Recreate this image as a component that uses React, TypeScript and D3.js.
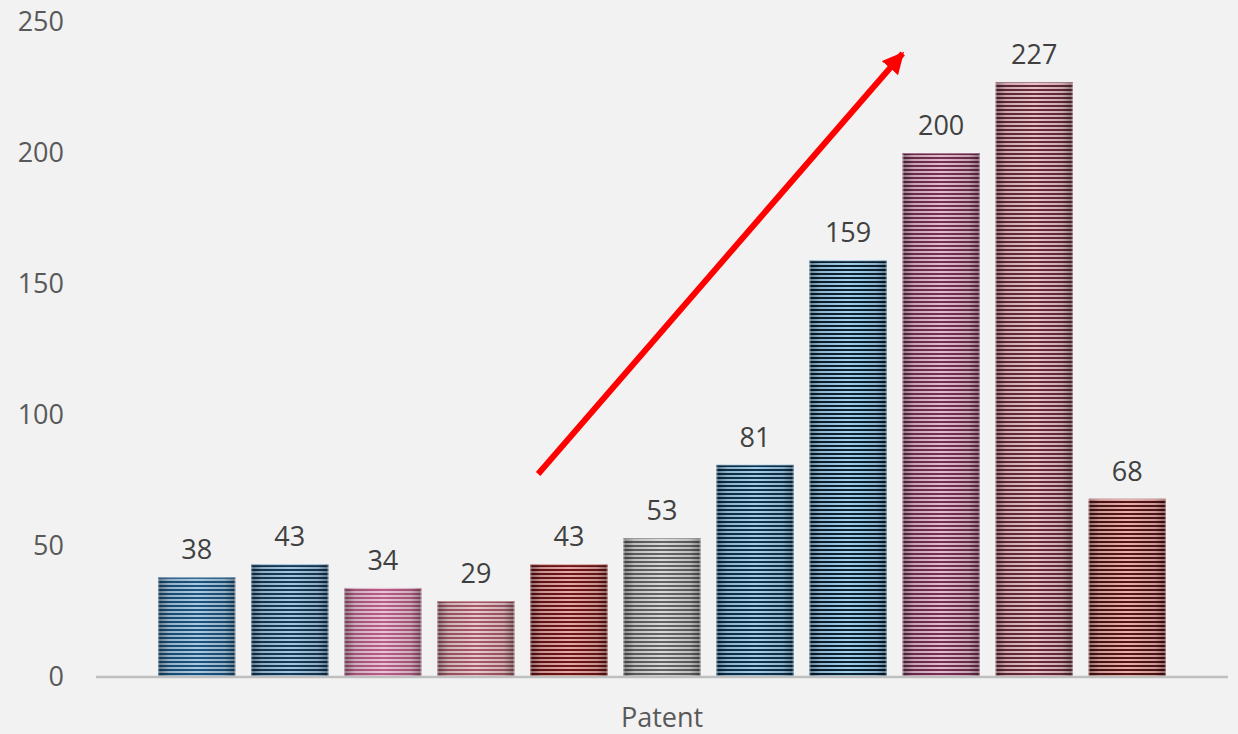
import { useEffect } from 'react';
import * as d3 from 'd3';

// one category, eleven series
const category = 'Patent';
const seriesNames = ['S1', 'S2', 'S3', 'S4', 'S5', 'S6', 'S7', 'S8', 'S9', 'S10', 'S11'];
const values = [38, 43, 34, 29, 43, 53, 81, 159, 200, 227, 68];
const darkColors = ['#1b5580', '#163a57', '#bb5f8a', '#a95c6a', '#6e1616', '#666666', '#10314a', '#0b2233', '#763055', '#6a2c3c', '#561515'];
const lightColors = ['#aecde6', '#a6cae6', '#efc9da', '#efcdd2', '#eaaaaa', '#dedede', '#a4d0ee', '#a6d2ee', '#e8bfd0', '#ecc4cc', '#eeb2b2'];
const yTicks = [0, 50, 100, 150, 200, 250];

// trend arrow annotation, in data terms (series index + fraction of band, value)
const arrowFrom = { bar: 4, frac: 0.1, value: 77.5 };
const arrowTo = { bar: 8, frac: 0, value: 238 };

const width = 1238;
const height = 734;
const margin = { top: 22, right: 10, bottom: 57, left: 96 };
const font = '"Open Sans", sans-serif';

const App = () => {
  useEffect(() => {
    document.body.style.margin = '0';
    document.body.style.background = '#f2f2f2';
  }, []);

  const plotRight = width - margin.right;
  const y = d3.scaleLinear().domain([0, 250]).range([height - margin.bottom, margin.top]);
  const x0 = d3.scaleBand().domain([category]).range([margin.left, plotRight]).paddingOuter(0.053);
  const x = d3
    .scaleBand<number>()
    .domain(d3.range(values.length))
    .range([x0(category)!, x0(category)! + x0.bandwidth()])
    .paddingInner(0.172)
    .paddingOuter(0.086);

  const ax = (p: { bar: number; frac: number }) => x(p.bar)! + p.frac * x.bandwidth();

  return (
    <svg width={width} height={height} style={{ display: 'block', background: '#f2f2f2' }}>
      <defs>
        {seriesNames.map((s, i) => (
          <pattern key={s} id={`stripe-${i}`} patternUnits="userSpaceOnUse" width={4} height={4} y={y(0)}>
            <rect width={4} height={4} fill={lightColors[i]} />
            <rect width={4} height={2} fill={darkColors[i]} />
          </pattern>
        ))}
        <linearGradient id="edgeShade" x1="0" x2="1" y1="0" y2="0">
          <stop offset="0" stopColor="#000" stopOpacity={0.4} />
          <stop offset="0.14" stopColor="#000" stopOpacity={0.14} />
          <stop offset="0.5" stopColor="#000" stopOpacity={0.02} />
          <stop offset="0.86" stopColor="#000" stopOpacity={0.14} />
          <stop offset="1" stopColor="#000" stopOpacity={0.4} />
        </linearGradient>
        <marker id="arrowHead" viewBox="0 0 10 10" refX={9} refY={5} markerWidth={3.6} markerHeight={3.6} orient="auto">
          <path d="M0,0 L10,5 L0,10 Z" fill="#ff0000" />
        </marker>
      </defs>

      {yTicks.map((t) => (
        <text
          key={t}
          x={64}
          y={y(t)}
          dy="0.35em"
          textAnchor="end"
          fontFamily={font}
          fontSize={27}
          fill="#595959"
        >
          {t}
        </text>
      ))}

      {values.map((v, i) => (
        <g key={seriesNames[i]}>
          <rect x={x(i)} y={y(v)} width={x.bandwidth()} height={y(0) - y(v)} fill={`url(#stripe-${i})`} />
          <rect x={x(i)} y={y(v)} width={x.bandwidth()} height={y(0) - y(v)} fill="url(#edgeShade)" />
          <rect
            x={x(i)! + 0.5}
            y={y(v) + 0.5}
            width={x.bandwidth() - 1}
            height={y(0) - y(v) - 1}
            fill="none"
            stroke={lightColors[i]}
            strokeOpacity={0.5}
            strokeWidth={1}
          />
          <text
            x={x(i)! + x.bandwidth() / 2}
            y={y(v) - 18}
            textAnchor="middle"
            fontFamily={font}
            fontSize={27}
            fill="#404040"
          >
            {v}
          </text>
        </g>
      ))}

      <line x1={margin.left} x2={plotRight} y1={y(0)} y2={y(0)} stroke="#bfbfbf" strokeWidth={2.5} />

      <text
        x={x0(category)! + x0.bandwidth() / 2}
        y={727}
        textAnchor="middle"
        fontFamily={font}
        fontSize={27}
        fill="#595959"
      >
        {category}
      </text>

      <line
        x1={ax(arrowFrom)}
        y1={y(arrowFrom.value)}
        x2={ax(arrowTo)}
        y2={y(arrowTo.value)}
        stroke="#ff0000"
        strokeWidth={6}
        markerEnd="url(#arrowHead)"
      />
    </svg>
  );
};

export default App;
